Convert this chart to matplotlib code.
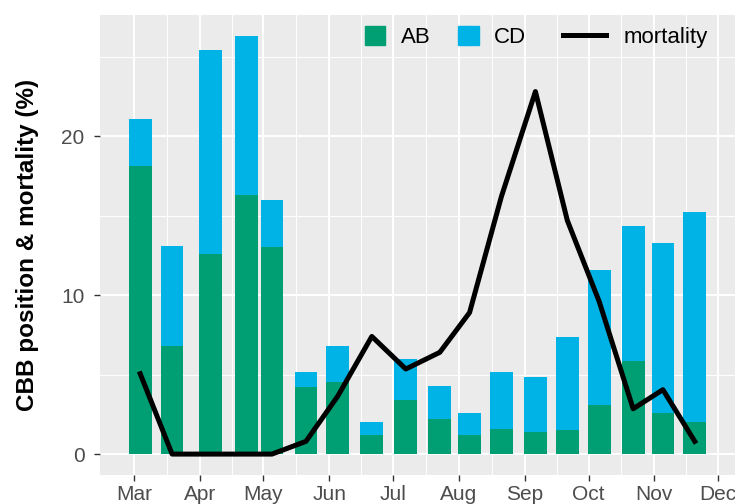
import matplotlib
matplotlib.use("Agg")
import matplotlib.pyplot as plt
import matplotlib.dates as mdates
import numpy as np
from datetime import date
from matplotlib.patches import Patch
from matplotlib.lines import Line2D

plt.rcParams['font.family'] = ['Liberation Sans', 'DejaVu Sans']

# sampling dates (one bar + one line point each)
dates = [date(2019, 3, 4), date(2019, 3, 19), date(2019, 4, 6), date(2019, 4, 23),
         date(2019, 5, 5), date(2019, 5, 21), date(2019, 6, 5), date(2019, 6, 21),
         date(2019, 7, 7), date(2019, 7, 23), date(2019, 8, 6), date(2019, 8, 21),
         date(2019, 9, 6), date(2019, 9, 21), date(2019, 10, 6), date(2019, 10, 22),
         date(2019, 11, 5), date(2019, 11, 20)]
ab = [18.1, 6.8, 12.6, 16.3, 13.0, 4.2, 4.55, 1.2, 3.4, 2.2, 1.2, 1.6, 1.4, 1.5, 3.1, 5.85, 2.6, 2.0]
total = [21.1, 13.1, 25.4, 26.3, 15.95, 5.15, 6.8, 2.0, 5.95, 4.3, 2.6, 5.15, 4.85, 7.35, 11.6, 14.35, 13.3, 15.2]
cd = [t - a for t, a in zip(total, ab)]
mortality = [5.05, 0, 0, 0, 0, 0.8, 3.65, 7.4, 5.35, 6.4, 8.9, 16.2, 22.8, 14.7, 9.6, 2.85, 4.05, 0.8]

month_ticks = [date(2019, m, 1) for m in range(3, 13)]
month_labels = ["Mar", "Apr", "May", "Jun", "Jul", "Aug", "Sep", "Oct", "Nov", "Dec"]

c_ab = "#009E73"
c_cd = "#00B3E6"

fig = plt.figure(figsize=(7.35, 5.04), dpi=100)
ax = fig.add_axes([100 / 735, 1 - 475 / 504, 635 / 735, 460 / 504])
ax.set_facecolor("#EBEBEB")

x = mdates.date2num(dates)
width = 10.7
ax.bar(x, ab, width=width, color=c_ab, zorder=2)
ax.bar(x, cd, width=width, bottom=ab, color=c_cd, zorder=2)
ax.plot(x, mortality, color="black", lw=3.6, zorder=3)

# ggplot-like limits with 5% expansion
lo, hi = x.min() - width / 2, x.max() + width / 2
ax.set_xlim(lo - 0.05 * (hi - lo), hi + 0.05 * (hi - lo))
ymax = max(total)
ax.set_ylim(-0.05 * ymax, ymax * 1.05)

xt = mdates.date2num(month_ticks)
ax.set_xticks(xt)
ax.set_xticklabels(month_labels)
ax.set_xticks((xt[:-1] + xt[1:]) / 2, minor=True)
ax.set_yticks([0, 10, 20])
ax.set_yticks([5, 15, 25], minor=True)

ax.grid(which="major", color="white", lw=1.4, zorder=0)
ax.grid(which="minor", color="white", lw=0.7, zorder=0)
ax.set_axisbelow(True)
for s in ax.spines.values():
    s.set_visible(False)

ax.tick_params(axis="both", which="major", labelsize=15, labelcolor="#4D4D4D",
               color="#333333", length=4, width=1)
ax.tick_params(axis="x", which="major", pad=3)
ax.tick_params(axis="y", which="major", pad=7)
ax.tick_params(which="minor", length=0)

ax.set_ylabel("CBB position & mortality (%)", fontsize=17.5, fontweight="bold", labelpad=16)

leg1 = ax.legend(handles=[Patch(color=c_ab, label="AB"), Patch(color=c_cd, label="CD")],
                 ncol=2, fontsize=16, frameon=False, loc="center left",
                 bbox_to_anchor=(0.417, 0.952), borderpad=0, borderaxespad=0,
                 handlelength=0.93, handleheight=0.93, handletextpad=0.68,
                 columnspacing=1.26)
ax.add_artist(leg1)
ax.legend(handles=[Line2D([], [], color="black", lw=3.6, label="mortality")],
          fontsize=16, frameon=False, loc="center left",
          bbox_to_anchor=(0.729, 0.952), borderpad=0, borderaxespad=0,
          handlelength=1.95, handletextpad=0.77)

fig.savefig("out.png", dpi=100)
